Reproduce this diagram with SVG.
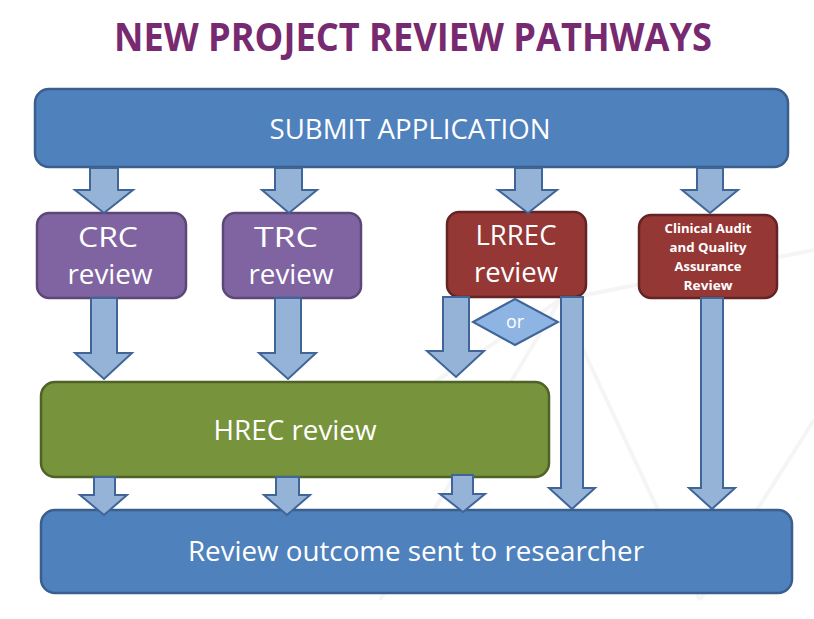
<svg xmlns="http://www.w3.org/2000/svg" width="814" height="619" viewBox="0 0 814 619">
<style>
.t{font-family:"Open Sans","Noto Sans","Liberation Sans",sans-serif;fill:#fff;text-anchor:middle}
.blue{fill:#4F81BD;stroke:#3A5F8C;stroke-width:2.5}
.purple{fill:#8064A2;stroke:#5C4776;stroke-width:2.5}
.red{fill:#953735;stroke:#632523;stroke-width:2.5}
.green{fill:#77933C;stroke:#4F6228;stroke-width:2.5}
.arr{fill:#95B3D7;stroke:#3F6599;stroke-width:2;stroke-linejoin:miter}
.bg{fill:none;stroke:#f5f5f5;stroke-width:4}
</style>
<rect width="814" height="619" fill="#fff"/>
<g id="background">
<polyline class="bg" points="560,300 700,600"/>
<polyline class="bg" points="300,470 560,300 814,250"/>
<polyline class="bg" points="700,600 814,420"/>
<polyline class="bg" points="380,600 560,300"/>
</g>
<text x="413" y="51" class="t" style="fill:#772A6F;font-weight:700;font-size:39px" textLength="598" lengthAdjust="spacingAndGlyphs">NEW PROJECT REVIEW PATHWAYS</text>
<g id="submit">
<rect class="blue" x="35" y="89" width="753" height="78" rx="14"/>
<text class="t" x="410" y="139" style="font-size:27px" textLength="281" lengthAdjust="spacingAndGlyphs">SUBMIT APPLICATION</text>
</g>
<g id="crc">
<rect class="purple" x="37" y="213" width="149" height="85" rx="12"/>
<text class="t" x="108" y="247" style="font-size:27px" textLength="60" lengthAdjust="spacingAndGlyphs">CRC</text>
<text class="t" x="110" y="284" style="font-size:28px" textLength="85" lengthAdjust="spacingAndGlyphs">review</text>
</g>
<g id="trc">
<rect class="purple" x="223" y="213" width="138" height="85" rx="12"/>
<text class="t" x="286" y="247" style="font-size:27px" textLength="64" lengthAdjust="spacingAndGlyphs">TRC</text>
<text class="t" x="291" y="284" style="font-size:28px" textLength="85" lengthAdjust="spacingAndGlyphs">review</text>
</g>
<g id="lrrec">
<rect class="red" x="447" y="212" width="139" height="85" rx="12"/>
<text class="t" x="516" y="245" style="font-size:27px" textLength="81" lengthAdjust="spacingAndGlyphs">LRREC</text>
<text class="t" x="516" y="282" style="font-size:28px" textLength="84" lengthAdjust="spacingAndGlyphs">review</text>
</g>
<g id="clinical">
<rect class="red" x="639" y="215" width="138" height="83" rx="12"/>
<g class="t" style="font-size:13px;font-weight:700">
<text x="708" y="233" textLength="87" lengthAdjust="spacingAndGlyphs">Clinical Audit</text>
<text x="708" y="252" textLength="77" lengthAdjust="spacingAndGlyphs">and Quality</text>
<text x="708" y="271" textLength="67" lengthAdjust="spacingAndGlyphs">Assurance</text>
<text x="708" y="290" textLength="49" lengthAdjust="spacingAndGlyphs">Review</text>
</g>
</g>
<g id="or">
<polygon points="473,322 515,299 558,322 515,345" style="fill:#8EB4E3;stroke:#3F6599;stroke-width:2"/>
<text class="t" x="515" y="328" style="font-size:19px" textLength="18" lengthAdjust="spacingAndGlyphs">or</text>
</g>
<g id="hrec">
<rect class="green" x="41" y="382" width="508" height="95" rx="14"/>
<text class="t" x="295" y="440" style="font-size:27px" textLength="163" lengthAdjust="spacingAndGlyphs">HREC review</text>
</g>
<g id="outcome">
<rect class="blue" x="41" y="510" width="751" height="83" rx="14"/>
<text class="t" x="416" y="561" style="font-size:28px" textLength="456" lengthAdjust="spacingAndGlyphs">Review outcome sent to researcher</text>
</g>
<g id="connectors">
<polygon class="arr" points="90,168 118,168 118,190 133,190 104,213 75,190 90,190"/>
<polygon class="arr" points="275,168 302,168 302,190 317,190 289,213 262,190 275,190"/>
<polygon class="arr" points="515,168 542,168 542,190 557,190 528,213 498,190 515,190"/>
<polygon class="arr" points="697,168 723,168 723,190 738,190 710,213 682,190 697,190"/>
<polygon class="arr" points="91,298 117,298 117,353 132,353 104,379 75,353 91,353"/>
<polygon class="arr" points="275,298 301,298 301,353 316,353 288,379 259,353 275,353"/>
<polygon class="arr" points="443,297 469,297 469,351 484,351 456,377 427,351 443,351"/>
<polygon class="arr" points="561,297 583,297 583,488 595,488 572,509 549,488 561,488"/>
<polygon class="arr" points="701,298 723,298 723,488 735,488 712,509 689,488 701,488"/>
<polygon class="arr" points="94,477 115,477 115,495 127,495 104,515 80,495 94,495"/>
<polygon class="arr" points="276,477 299,477 299,495 310,495 287,515 264,495 276,495"/>
<polygon class="arr" points="452,475 473,475 473,494 485,494 463,512 440,494 452,494"/>
</g>
</svg>
